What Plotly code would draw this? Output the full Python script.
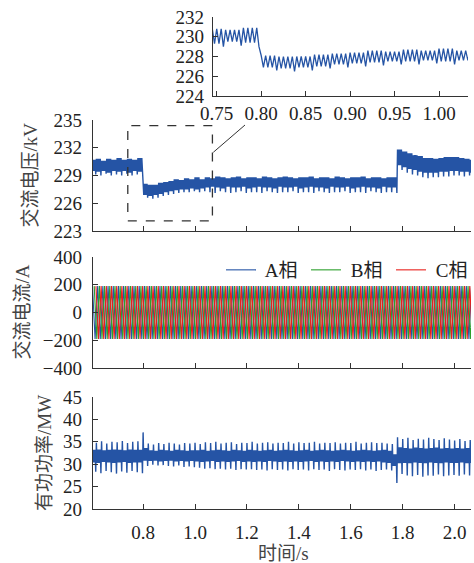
import plotly.graph_objects as go

# ---------------- data ----------------
# records are read once per 0.02 s period, starting at 0.60 s
t_start = 0.60
period = 0.02
n_sub = 8  # sub-samples per period (0.0025 s)

# AC voltage (kV): upper edge, lower edge, periodic dip of each period
v_hi = [230.7, 230.8, 230.6, 230.8, 230.7, 230.9, 230.7, 230.8, 230.7, 230.9,
        228.1, 228.0, 228.0, 228.2, 228.3, 228.4, 228.6, 228.5, 228.7, 228.6,
        228.8, 228.6, 228.8, 228.7, 228.9, 228.8, 228.7, 228.8, 228.9, 228.7,
        228.8, 228.8, 228.7, 228.9, 228.8, 228.7, 228.8, 228.9, 228.8, 228.7,
        228.8, 228.8, 228.9, 228.7, 228.8, 228.8, 228.7, 228.9, 228.8, 228.7,
        228.8, 228.8, 228.9, 228.7, 228.8, 228.8, 228.7, 228.8, 228.8, 231.8,
        231.6, 231.4, 231.2, 231.1, 230.9, 230.9, 230.8, 230.9, 231.0, 231.0,
        231.0, 230.9, 230.8, 230.7]
v_lo = [229.5, 229.4, 229.5, 229.3, 229.5, 229.4, 229.5, 229.3, 229.5, 229.4,
        226.9, 226.8, 226.9, 227.0, 227.2, 227.3, 227.4, 227.5, 227.5, 227.6,
        227.5, 227.6, 227.7, 227.8, 227.7, 227.6, 227.8, 227.7, 227.7, 227.8,
        227.6, 227.7, 227.8, 227.7, 227.7, 227.6, 227.8, 227.7, 227.7, 227.8,
        227.6, 227.7, 227.8, 227.7, 227.7, 227.6, 227.8, 227.7, 227.7, 227.8,
        227.6, 227.7, 227.8, 227.7, 227.7, 227.6, 227.8, 227.7, 227.7, 230.1,
        229.9, 229.7, 229.6, 229.4, 229.3, 229.3, 229.3, 229.4, 229.4, 229.5,
        229.5, 229.4, 229.4, 229.3]
v_dip = [229.1, 229.0, 229.2, 229.0, 229.1, 229.0, 229.2, 229.0, 229.1, 229.0,
         226.6, 226.5, 226.6, 226.8, 226.9, 227.0, 227.1, 227.2, 227.2, 227.3,
         227.2, 227.3, 227.2, 227.1, 227.3, 227.2, 227.1, 227.2, 227.3, 227.1,
         227.2, 227.2, 227.1, 227.3, 227.2, 227.1, 227.2, 227.2, 227.3, 227.1,
         227.2, 227.2, 227.1, 227.3, 227.2, 227.1, 227.2, 227.2, 227.3, 227.1,
         227.2, 227.2, 227.1, 227.3, 227.2, 227.1, 227.2, 227.2, 227.1, 229.6,
         229.3, 229.1, 229.0, 228.8, 228.7, 228.8, 228.8, 228.9, 228.9, 229.0,
         229.0, 228.9, 229.0, 228.9]

# Active power (MW): spike peak, band low, band high, spike trough per period
p_peak = [35.0, 34.8, 35.1, 34.6, 35.0, 34.9, 35.2, 34.7, 35.0, 35.1,
          37.1, 34.6, 34.4, 34.7, 34.5, 34.8, 34.6, 34.4, 34.7, 34.6,
          34.8, 34.5, 34.9, 34.7, 35.0, 34.6, 34.8, 34.9, 34.5, 34.8,
          34.7, 35.0, 34.6, 34.8, 34.9, 34.6, 34.8, 34.7, 35.0, 34.6,
          34.9, 34.7, 34.8, 35.0, 34.6, 34.8, 34.7, 34.9, 34.6, 34.8,
          34.7, 35.0, 34.6, 34.8, 34.9, 34.7, 34.8, 34.6, 34.5, 36.0,
          35.6, 35.9, 35.4, 35.7, 35.5, 35.9, 35.6, 35.4, 35.8, 35.5,
          35.3, 35.6, 35.2, 35.4]
p_core_lo = [30.4, 30.3, 30.5, 30.4, 30.3, 30.4, 30.5, 30.3, 30.4, 30.4,
             30.8, 30.7, 30.8, 30.6, 30.7, 30.8, 30.6, 30.7, 30.6, 30.7,
             30.6, 30.5, 30.6, 30.7, 30.5, 30.6, 30.5, 30.6, 30.7, 30.5,
             30.6, 30.5, 30.6, 30.5, 30.7, 30.6, 30.5, 30.6, 30.5, 30.6,
             30.5, 30.6, 30.7, 30.5, 30.6, 30.5, 30.6, 30.5, 30.7, 30.6,
             30.5, 30.6, 30.5, 30.6, 30.5, 30.6, 30.4, 30.3, 29.6, 30.2,
             30.3, 30.2, 30.4, 30.3, 30.2, 30.4, 30.3, 30.2, 30.4, 30.3,
             30.3, 30.4, 30.2, 30.3]
p_core_hi = [33.2, 33.3, 33.1, 33.2, 33.3, 33.2, 33.1, 33.3, 33.2, 33.2,
             33.6, 33.1, 33.0, 33.2, 33.1, 33.0, 33.2, 33.1, 33.0, 33.1,
             33.1, 33.2, 33.0, 33.1, 33.2, 33.1, 33.0, 33.2, 33.1, 33.0,
             33.2, 33.1, 33.0, 33.1, 33.2, 33.0, 33.1, 33.2, 33.1, 33.0,
             33.1, 33.2, 33.0, 33.1, 33.2, 33.1, 33.0, 33.1, 33.2, 33.1,
             33.0, 33.1, 33.2, 33.1, 33.0, 33.1, 33.2, 33.0, 32.2, 33.8,
             33.6, 33.5, 33.7, 33.6, 33.5, 33.6, 33.7, 33.5, 33.6, 33.5,
             33.6, 33.5, 33.6, 33.5]
p_trough = [28.3, 28.0, 28.5, 28.2, 27.9, 28.4, 28.1, 28.5, 28.2, 28.0,
            29.6, 29.9, 29.7, 29.8, 29.6, 29.5, 29.7, 29.4, 29.5, 29.3,
            29.2, 29.0, 29.1, 28.9, 29.0, 28.8, 29.0, 28.7, 28.9, 28.8,
            28.9, 28.7, 28.8, 28.6, 28.9, 28.7, 28.8, 28.6, 28.9, 28.7,
            28.8, 28.6, 28.9, 28.7, 28.8, 28.5, 28.9, 28.7, 28.6, 28.8,
            28.7, 28.9, 28.6, 28.8, 28.5, 28.7, 28.8, 28.6, 25.8, 27.8,
            27.5, 27.3, 27.6, 27.2, 27.5, 27.4, 27.7, 27.3, 27.5, 27.6,
            27.4, 27.7, 27.5, 27.6]

# AC current (A): successive half-cycle extrema (50 Hz), same for each phase
current_half_period = 0.01
current_extrema = [
    190, -190, 190, -190, 190, -190, 190, -190, 190, -190,
    190, -190, 190, -190, 190, -190, 190, -190, 190, -190,
    190, -190, 190, -190, 190, -190, 190, -190, 190, -190,
    190, -190, 190, -190, 190, -190, 190, -190, 190, -190,
    190, -190, 190, -190, 190, -190, 190, -190, 190, -190,
    190, -190, 190, -190, 190, -190, 190, -190, 190, -190,
    190, -190, 190, -190, 190, -190, 190, -190, 190, -190,
    190, -190, 190, -190, 190, -190, 190, -190, 190, -190,
    190, -190, 190, -190, 190, -190, 190, -190, 190, -190,
    190, -190, 190, -190, 190, -190, 190, -190, 190, -190,
    190, -190, 190, -190, 190, -190, 190, -190, 190, -190,
    190, -190, 190, -190, 190, -190, 190, -190, 190, -190,
    190, -190, 190, -190, 190, -190, 190, -190, 190, -190,
    190, -190, 190, -190, 190, -190, 190, -190, 190, -190,
    190, -190, 190, -190, 190, -190, 190, -190]
phase_names = ["A相", "B相", "C相"]
phase_lags = [0.0, 1 / 150, 2 / 150]
phase_colors = ["#2554a5", "#2ca02c", "#e8201c"]

# axes
t_ticks = [0.8, 1.0, 1.2, 1.4, 1.6, 1.8, 2.0]
v_ticks = [223, 226, 229, 232, 235]
i_ticks = [-400, -200, 0, 200, 400]
p_ticks = [20, 25, 30, 35, 40, 45]
inset_t_ticks = [0.75, 0.80, 0.85, 0.90, 0.95, 1.00]
inset_v_ticks = [224, 226, 228, 230, 232]
t_range = [0.607, 2.063]
inset_t_range = [0.7458, 1.0326]
zoom_box_t = [0.741, 1.067]
zoom_box_v = [224.1, 234.4]

# ---------------- build series ----------------
def expand(pattern):
    # pattern: list of n_sub columns (one per sub-sample within a period)
    ts, ys = [], []
    for k in range(len(pattern[0])):
        t0 = t_start + k * period
        for j, col in enumerate(pattern):
            ts.append(t0 + j * period / n_sub)
            ys.append(col[k])
    return ts, ys

v_t, v_y = expand([v_hi, v_lo, v_hi, v_lo, v_hi, v_lo, v_hi, v_dip])
p_t, p_y = expand([p_peak, p_core_lo, p_core_hi, p_core_lo, p_core_hi, p_core_lo, p_core_hi, p_trough])

BLUE = "#2554a5"
FONT = "Liberation Serif, 'Noto Sans CJK SC', serif"
AX = "#333333"

fig = go.Figure()
fig.add_trace(go.Scatter(x=v_t, y=v_y, mode="lines", line=dict(color=BLUE, width=1.4),
                         xaxis="x", yaxis="y", showlegend=False))
for name, lag, col in zip(phase_names, phase_lags, phase_colors):
    ts = [t_start + 0.005 + lag + j * current_half_period for j in range(len(current_extrema))]
    fig.add_trace(go.Scatter(x=ts, y=current_extrema, mode="lines", name=" " + name,
                             line=dict(color=col, width=1.1), xaxis="x2", yaxis="y2"))
fig.add_trace(go.Scatter(x=p_t, y=p_y, mode="lines", line=dict(color=BLUE, width=1.4),
                         xaxis="x3", yaxis="y3", showlegend=False))
fig.add_trace(go.Scatter(x=v_t, y=v_y, mode="lines", line=dict(color=BLUE, width=1.3),
                         xaxis="x4", yaxis="y4", showlegend=False))

W, H = 474, 563
def px_x(a, b):
    return [a / W, b / W]
def px_y(top, bottom):
    return [1 - bottom / H, 1 - top / H]

common = dict(showline=True, linecolor=AX, linewidth=1.3, ticks="inside", ticklen=5,
              tickwidth=1.3, tickcolor=AX, showgrid=False, zeroline=False, automargin=False,
              tickfont=dict(family=FONT, size=19, color="#222"))

main_x = px_x(93, 471)
fig.update_layout(
    width=W, height=H, margin=dict(l=0, r=0, t=0, b=0, autoexpand=False),
    paper_bgcolor="white", plot_bgcolor="white",
    font=dict(family=FONT, size=19, color="#222"),
    xaxis=dict(common, domain=main_x, range=t_range, tickvals=t_ticks, showticklabels=False, anchor="y"),
    yaxis=dict(common, domain=px_y(120, 231), range=[223, 235], tickvals=v_ticks, anchor="x",
               ticklabelstandoff=6),
    xaxis2=dict(common, domain=main_x, range=t_range, tickvals=t_ticks, showticklabels=False, anchor="y2"),
    yaxis2=dict(common, domain=px_y(257, 368), range=[-400, 400], tickvals=i_ticks, anchor="x2",
                ticklabelstandoff=6),
    xaxis3=dict(common, domain=main_x, range=t_range, tickvals=t_ticks, tickformat=".1f",
                anchor="y3", ticklabelstandoff=6),
    yaxis3=dict(common, domain=px_y(397, 509), range=[20, 45], tickvals=p_ticks, anchor="x3",
                ticklabelstandoff=6),
    xaxis4=dict(common, domain=px_x(213, 468), range=inset_t_range, tickvals=inset_t_ticks,
                tickformat=".2f", anchor="y4", ticklabelstandoff=0),
    yaxis4=dict(common, domain=px_y(17, 96), range=[224, 232], tickvals=inset_v_ticks, anchor="x4",
                ticklabelstandoff=4),
    legend=dict(orientation="h", x=221 / W, y=1 - 270 / H, xanchor="left", yanchor="middle",
                bgcolor="rgba(0,0,0,0)", font=dict(family=FONT, size=19, color="#222"),
                itemwidth=30, tracegroupgap=0, entrywidth=40, entrywidthmode="pixels"),
)

fig.add_shape(type="rect", xref="x", yref="y", x0=zoom_box_t[0], x1=zoom_box_t[1],
              y0=zoom_box_v[0], y1=zoom_box_v[1], line=dict(color=AX, width=1.3, dash="dash"))
fig.add_shape(type="line", xref="paper", yref="paper", x0=213.3 / W, y0=1 - 152.3 / H,
              x1=245 / W, y1=1 - 125 / H, line=dict(color=AX, width=1))

title_font = dict(family=FONT, size=19, color="#444")
for text, xpx, top, bottom in [("交流电压/kV", 30, 120, 231), ("交流电流/A", 22, 257, 368),
                               ("有功功率/MW", 44, 397, 509)]:
    fig.add_annotation(text=text, xref="paper", yref="paper", x=xpx / W, y=1 - (top + bottom) / 2 / H,
                       textangle=-90, showarrow=False, xanchor="center", yanchor="middle", font=title_font)
fig.add_annotation(text="时间/s", xref="paper", yref="paper", x=283 / W, y=1 - 553 / H,
                   showarrow=False, xanchor="center", yanchor="middle", font=title_font)

fig.write_html("out.html")
